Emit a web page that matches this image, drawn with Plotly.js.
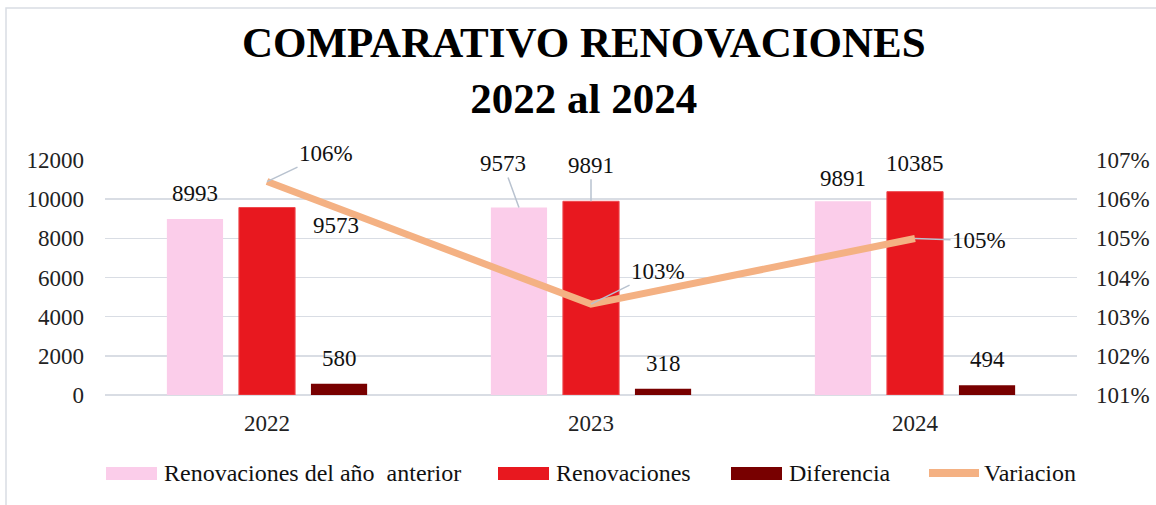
<!DOCTYPE html>
<html>
<head>
<meta charset="utf-8">
<script src="https://cdn.plot.ly/plotly-3.0.1.min.js"></script>
<style>
  html, body { margin: 0; padding: 0; background: #fff; }
  #chart { width: 1156px; height: 505px; }
</style>
</head>
<body>
<div id="chart"></div>
<script>
// data
let years = ["2022", "2023", "2024"];
let anterior = [8993, 9573, 9891];
let renovaciones = [9573, 9891, 10385];
let diferencia = [580, 318, 494];
let variacion = [9573 / 8993, 9891 / 9573, 10385 / 9891];

let serif = "Liberation Serif, Times New Roman, serif";
let leader = "#b8c2cf";
let colors = ["#fbcdea", "#e8181f", "#780000", "#f4b183"];
let names = ["Renovaciones del año\u00a0 anterior", "Renovaciones", "Diferencia", "Variacion"];

//bars + line
let traces = [
  {x: years, y: anterior, type: "bar", name: names[0], marker: {color: colors[0]}},
  {x: years, y: renovaciones, type: "bar", name: names[1],
   marker: {color: colors[1], line: {color: "#ee4a4f", width: 1}}},
  {x: years, y: diferencia, type: "bar", name: names[2], marker: {color: colors[2]}},
  {x: years, y: variacion, type: "scatter", mode: "lines", name: names[3],
   yaxis: "y2", line: {color: colors[3], width: 7}}
];

// plot box in pixels, used to place things outside the axes
let L = 105, R = 79, T = 160, B = 110, W = 1156, H = 505;
let pw = W - L - R, ph = H - T - B;
function px(x) { return (x - L) / pw; }
function py(y) { return (H - B - y) / ph; }

// value labels, pixels from the top of each mark
let slot = (1 - 0.333) / 3;
let annos = [];
function barLabels(vals, offset, moves) {
  vals.forEach(function(v, i) {
    let m = moves[i];
    let a = {
      x: i + offset, y: v, xref: "x", yref: "y", text: String(v),
      font: {family: serif, size: 23, color: "#111"}
    };
    if (m.arrow) {
      a.showarrow = true; a.arrowhead = 0; a.arrowwidth = 1.5; a.arrowcolor = leader;
      a.ax = m.dx; a.ay = m.dy;
    } else {
      a.showarrow = false; a.xshift = m.dx; a.yshift = -m.dy;
    }
    annos.push(a);
  });
}
barLabels(anterior, -slot, [{dx: 0, dy: -25}, {dx: -16, dy: -44, arrow: true}, {dx: 0, dy: -23}]);
barLabels(renovaciones, 0, [{dx: 69, dy: 18}, {dx: 0, dy: -36, arrow: true}, {dx: 0, dy: -28}]);
barLabels(diferencia, slot, [{dx: 0, dy: -25}, {dx: 0, dy: -25}, {dx: 0, dy: -26}]);

let lineMoves = [[59, -28], [67, -33], [64, 2]];
variacion.forEach(function(v, i) {
  annos.push({
    x: i, y: v, xref: "x", yref: "y2", text: Math.round(v * 100) + "%",
    showarrow: true, arrowhead: 0, arrowwidth: 1.5, arrowcolor: leader,
    ax: lineMoves[i][0], ay: lineMoves[i][1],
    font: {family: serif, size: 23, color: "#111"}
  });
});

// legend drawn by hand so the swatches are wide like the original
let legX = [106, 498, 731, 926];
let legY = 473;
let shapes = [{
  type: "rect", xref: "paper", yref: "paper",
  x0: px(6), x1: px(1180), y0: py(530), y1: py(8),
  line: {color: "#d9dde4", width: 1.5}, fillcolor: "rgba(0,0,0,0)", layer: "below"
}];
names.forEach(function(n, i) {
  if (i < 3) {
    shapes.push({type: "rect", xref: "paper", yref: "paper",
      x0: px(legX[i]), x1: px(legX[i] + 51), y0: py(legY + 7), y1: py(legY - 6),
      fillcolor: colors[i], line: {width: 0}});
  } else {
    shapes.push({type: "line", xref: "paper", yref: "paper",
      x0: px(legX[i] + 3), x1: px(legX[i] + 53), y0: py(legY), y1: py(legY),
      line: {color: colors[i], width: 8}});
  }
  annos.push({xref: "paper", yref: "paper", x: px(legX[i] + 56), y: py(legY),
    xanchor: "left", yanchor: "middle", showarrow: false, text: n,
    font: {family: serif, size: 24, color: "#111"}});
});

let layout = {
  width: W, height: H,
  margin: {l: L, r: R, t: T, b: B},
  paper_bgcolor: "#fff", plot_bgcolor: "#fff",
  font: {family: serif, size: 23, color: "#111"},
  title: {
    text: "<b>COMPARATIVO RENOVACIONES<br>2022 al 2024</b>",
    font: {family: serif, size: 43, color: "#000"},
    x: 0.505, xanchor: "center", y: 0.887, yanchor: "top"
  },
  barmode: "group", bargap: 0.333, bargroupgap: 0.22,
  xaxis: {
    type: "category", showgrid: false, showline: false, ticks: "", ticklabelstandoff: 12,
    tickfont: {family: serif, size: 23, color: "#222"}
  },
  yaxis: {
    range: [0, 12000], dtick: 2000, tickformat: "d",
    showgrid: true, gridcolor: "#d9dde4", gridwidth: 1.5,
    zeroline: true, zerolinecolor: "#d9dde4", zerolinewidth: 1.5, ticks: "",
    ticklabelstandoff: 20, tickfont: {family: serif, size: 23, color: "#222"}
  },
  yaxis2: {
    overlaying: "y", side: "right", range: [1.01, 1.07], dtick: 0.01,
    tickformat: ".0%", showgrid: false, zeroline: false, ticks: "",
    ticklabelstandoff: 18, tickfont: {family: serif, size: 23, color: "#222"}
  },
  showlegend: false,
  annotations: annos,
  shapes: shapes
};

Plotly.newPlot("chart", traces, layout, {displayModeBar: false, staticPlot: true});
</script>
</body>
</html>
